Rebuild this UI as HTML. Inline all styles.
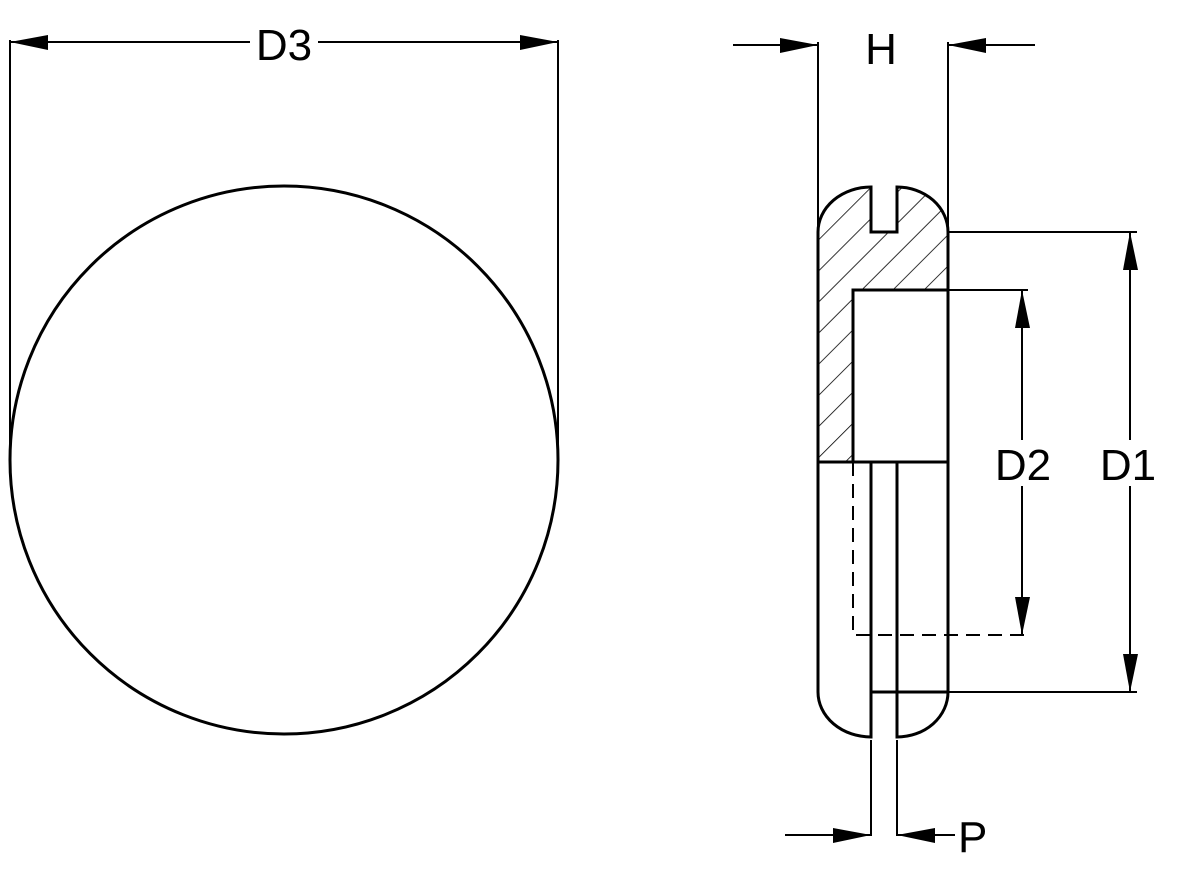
<!DOCTYPE html>
<html><head><style>html,body{margin:0;padding:0;background:#fff}svg{display:block}</style></head>
<body>
<svg width="1200" height="880" viewBox="0 0 1200 880" xmlns="http://www.w3.org/2000/svg">
<defs>
<pattern id="h" patternUnits="userSpaceOnUse" width="22" height="22" patternTransform="rotate(45)">
<line x1="0" y1="0" x2="0" y2="22" stroke="#000" stroke-width="1.6"/>
</pattern>
<clipPath id="c">
<path d="M818,462 L818,232 A53,45 0 0 1 871,187 L871,232 L897,232 L897,187 A51,45 0 0 1 948,232 L948,290 L853,290 L853,462 Z"/>
</clipPath>
</defs>
<g font-family="Liberation Sans, sans-serif" font-size="44" fill="#000">
<circle cx="284" cy="460" r="274" fill="none" stroke="#000" stroke-width="3"/>
<line x1="10" y1="40" x2="10" y2="460" stroke="#000" stroke-width="2"/>
<line x1="558" y1="40" x2="558" y2="460" stroke="#000" stroke-width="2"/>
<line x1="10" y1="42" x2="250" y2="42" stroke="#000" stroke-width="2"/>
<line x1="318" y1="42" x2="558" y2="42" stroke="#000" stroke-width="2"/>
<polygon points="10,42 48,35 48,50"/>
<polygon points="558,42 520,35 520,50"/>
<text x="284" y="60" text-anchor="middle">D3</text>

<rect x="810" y="180" width="150" height="290" fill="url(#h)" clip-path="url(#c)"/>
<g fill="none" stroke="#000" stroke-width="3">
<path d="M818,692 L818,232 A53,45 0 0 1 871,187 L871,232 L897,232 L897,187 A51,45 0 0 1 948,232 L948,692 A51,45 0 0 1 897,737 L897,462"/>
<path d="M871,462 L871,737 A53,45 0 0 1 818,692"/>
<path d="M853,462 L853,290 L948,290"/>
<line x1="818" y1="462" x2="948" y2="462"/>
<line x1="871" y1="692" x2="948" y2="692"/>
</g>
<path d="M853,462 L853,635 L1025,635" fill="none" stroke="#000" stroke-width="2" stroke-dasharray="14,8"/>
<line x1="818" y1="42" x2="818" y2="232" stroke="#000" stroke-width="2"/>
<line x1="948" y1="42" x2="948" y2="232" stroke="#000" stroke-width="2"/>
<line x1="733" y1="45" x2="818" y2="45" stroke="#000" stroke-width="2"/>
<line x1="948" y1="45" x2="1035" y2="45" stroke="#000" stroke-width="2"/>
<polygon points="818,45 780,38 780,53"/>
<polygon points="948,45 986,38 986,53"/>
<text x="881" y="64" text-anchor="middle">H</text>
<line x1="948" y1="232" x2="1137" y2="232" stroke="#000" stroke-width="2"/>
<line x1="948" y1="692" x2="1137" y2="692" stroke="#000" stroke-width="2"/>
<line x1="1130" y1="232" x2="1130" y2="692" stroke="#000" stroke-width="2"/>
<polygon points="1130,232 1123,270 1138,270"/>
<polygon points="1130,692 1123,654 1138,654"/>
<line x1="948" y1="290" x2="1028" y2="290" stroke="#000" stroke-width="2"/>
<line x1="1022" y1="290" x2="1022" y2="635" stroke="#000" stroke-width="2"/>
<polygon points="1022,290 1015,328 1030,328"/>
<polygon points="1022,635 1015,597 1030,597"/>
<rect x="990" y="440" width="66" height="46" fill="#fff"/>
<rect x="1096" y="440" width="66" height="46" fill="#fff"/>
<text x="1023" y="480" text-anchor="middle">D2</text>
<text x="1128" y="480" text-anchor="middle">D1</text>
<line x1="871" y1="740" x2="871" y2="836" stroke="#000" stroke-width="2"/>
<line x1="897" y1="740" x2="897" y2="836" stroke="#000" stroke-width="2"/>
<line x1="785" y1="835" x2="871" y2="835" stroke="#000" stroke-width="2"/>
<line x1="897" y1="835" x2="955" y2="835" stroke="#000" stroke-width="2"/>
<polygon points="871,835 833,828 833,843"/>
<polygon points="897,835 935,828 935,843"/>
<text x="958" y="852">P</text>
</g>
</svg>
</body></html>
